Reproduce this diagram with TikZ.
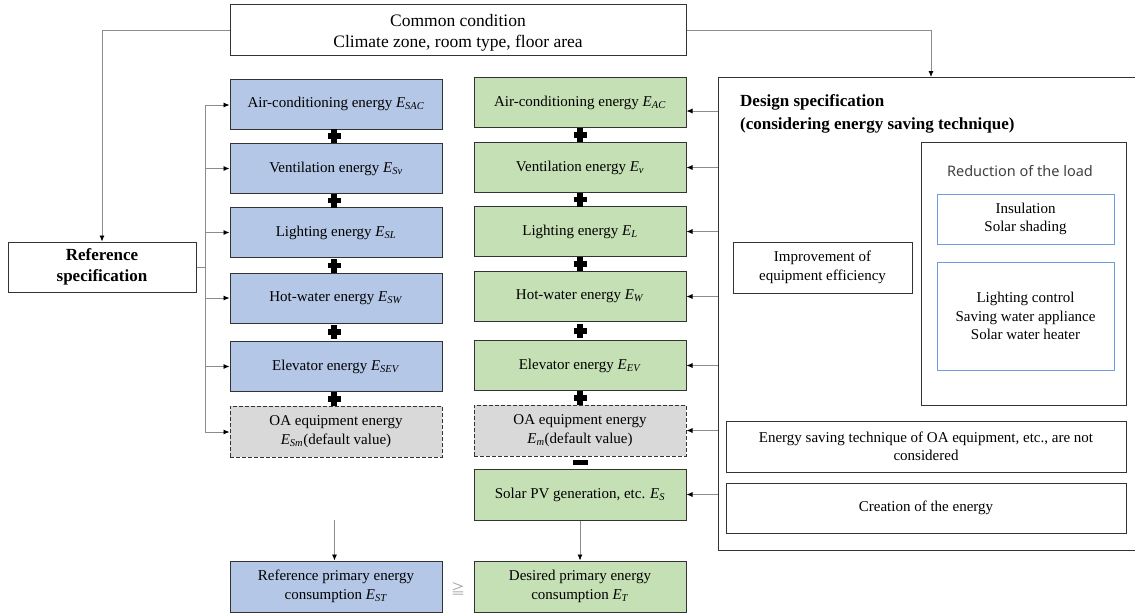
\documentclass[tikz,border=0pt]{standalone}
\usepackage{fontspec}
\setmainfont{Liberation Serif}
\newfontfamily\redfont{Noto Sans}
\newfontfamily\cjkfont{Noto Sans CJK JP}
\usetikzlibrary{arrows.meta}
\definecolor{bluefill}{HTML}{B4C7E7}
\definecolor{greenfill}{HTML}{C5E0B4}
\definecolor{greyfill}{HTML}{D9D9D9}
\definecolor{boxline}{HTML}{333333}
\definecolor{linegrey}{HTML}{8C8C8C}
\definecolor{innerblue}{HTML}{6F9BE0}
\definecolor{redtext}{HTML}{404040}
\newcommand\Esub[1]{\textit{E}\textsubscript{\textit{#1}}}
\begin{document}
\begin{tikzpicture}[x=1pt,y=-1pt,
  box/.style={draw=boxline, line width=1pt, rectangle, inner sep=0pt, minimum height=50pt, align=center, font=\fontsize{15}{18.5}\selectfont},
  bluebox/.style={box, fill=bluefill, minimum width=212pt},
  greenbox/.style={box, fill=greenfill, minimum width=212pt},
  oabox/.style={box, fill=greyfill, dash pattern=on 4pt off 2pt, minimum width=212pt, minimum height=51pt},
  wbox/.style={box, fill=white},
  ibox/.style={box, draw=innerblue, line width=0.9pt, minimum width=177pt},
  conn/.style={draw=linegrey, line width=0.8pt, -{Latex[length=6pt,width=5pt,color=black]}},
  plain/.style={draw=linegrey, line width=0.8pt},
  plussign/.pic={\fill[black] (-6.5,-2.6) rectangle (6.5,2.6); \fill[black] (-2.6,-7) rectangle (2.6,7);},
  minussign/.pic={\fill[black] (-7.5,-2.5) rectangle (7.5,2.5);}
]
\useasboundingbox (0,0) rectangle (1135,614);

% top
\node[wbox, minimum width=456pt, minimum height=51pt] (common) at (458,30) {};
\node[align=center, inner sep=0pt, font=\fontsize{17.5}{21}\selectfont] (commontxt) at (458,33) {Common condition\\Climate zone, room type, floor area};
\node[wbox, minimum width=188pt, minimum height=50pt, font=\fontsize{17}{21}\selectfont\bfseries] (refspec) at (102,267) {Reference\\specification};

% blue column
\node[bluebox] (b1) at (336,104) {Air-conditioning energy \Esub{SAC}};
\node[bluebox] (b2) at (336,168.5) {Ventilation energy \Esub{Sv}};
\node[bluebox] (b3) at (336,232.5) {Lighting energy \Esub{SL}};
\node[bluebox] (b4) at (336,298) {Hot-water energy \Esub{SW}};
\node[bluebox] (b5) at (336,366.5) {Elevator energy \Esub{SEV}};
\node[oabox] (b6) at (336,431.5) {OA equipment energy\\\Esub{Sm}(default value)};
\node[bluebox, minimum height=51pt] (bT) at (336,586.5) {Reference primary energy\\consumption \Esub{ST}};

% green column
\node[greenbox] (g1) at (580,102.5) {Air-conditioning energy \Esub{AC}};
\node[greenbox] (g2) at (580,167.5) {Ventilation energy \Esub{v}};
\node[greenbox] (g3) at (580,231.5) {Lighting energy \Esub{L}};
\node[greenbox] (g4) at (580,296.5) {Hot-water energy \Esub{W}};
\node[greenbox] (g5) at (580,365.5) {Elevator energy \Esub{EV}};
\node[oabox] (g6) at (580,430.5) {OA equipment energy\\\Esub{m}(default value)};
\node[greenbox, minimum height=51pt] (g7) at (580,494.5) {Solar PV generation, etc. \Esub{S}};
\node[greenbox, minimum height=51pt] (gT) at (580,586.5) {Desired primary energy\\consumption \Esub{T}};

% plus / minus signs
\foreach \y in {136,200.5,265.5,332,399} \pic at (334,\y) {plussign};
\foreach \y in {135,199.5,264,331,398} \pic at (580,\y) {plussign};
\pic at (580,462.5) {minussign};

% design specification
\node[draw=boxline, line width=1pt, minimum width=422pt, minimum height=473pt, inner sep=0pt] (design) at (929,313.5) {};
\node[anchor=west, align=left, inner sep=0pt, font=\fontsize{17}{23}\selectfont\bfseries] (dtext) at (740,114) {Design specification\\(considering energy saving technique)};
\node[wbox, minimum width=179pt, minimum height=51pt] (improve) at (822.5,267.5) {Improvement of\\equipment efficiency};
\node[draw=boxline, line width=1pt, minimum width=205pt, minimum height=263pt, inner sep=0pt] (reduce) at (1023.5,273.5) {};
\node[font=\redfont\fontsize{14.5}{17}\selectfont, text=redtext] (redtitle) at (1020,171) {Reduction of the load};
\node[ibox, minimum height=50pt] (ins) at (1025.5,219) {Insulation\\Solar shading};
\node[ibox, minimum height=108pt] (lctrl) at (1025.5,316) {Lighting control\\Saving water appliance\\Solar water heater};
\node[wbox, minimum width=400pt, minimum height=51pt] (oasave) at (926,446.5) {Energy saving technique of OA equipment, etc., are not\\considered};
\node[wbox, minimum width=400pt, minimum height=50pt] (create) at (926,508) {Creation of the energy};

% connectors
\coordinate (dtop) at (931,77);
\draw[conn] (common.west) -| (refspec.north);
\draw[conn] (common.east) -| (dtop);

\coordinate (bus1) at (205,105);
\coordinate (bus2) at (205,432);
\draw[plain] (refspec.east) -- (refspec.east -| bus1);
\draw[plain] (bus1) -- (bus2);
\draw[conn] (bus1) -- (b1.west |- bus1);
\draw[conn] (b2.west -| bus1) -- (b2.west);
\draw[conn] (b3.west -| bus1) -- (b3.west);
\draw[conn] (b4.west -| bus1) -- (b4.west);
\draw[conn] (b5.west -| bus1) -- (b5.west);
\draw[conn] (bus2) -- (b6.west |- bus2);

\coordinate (r1) at (718,111);
\draw[conn] (r1) -- (g1.east |- r1);
\draw[conn] (design.west |- g2.east) -- (g2.east);
\draw[conn] (design.west |- g3.east) -- (g3.east);
\draw[conn] (design.west |- g4.east) -- (g4.east);
\draw[conn] (design.west |- g5.east) -- (g5.east);
\draw[conn] (design.west |- g6.east) -- (g6.east);
\draw[conn] (design.west |- g7.east) -- (g7.east);

\coordinate (lstart) at (334.5,520);
\draw[conn] (lstart) -- (lstart |- bT.north);
\draw[conn] (g7.south) -- (gT.north);

\node[font=\cjkfont\fontsize{14}{14}\selectfont, text=linegrey!80] (geq) at (458,589) {≧};
\end{tikzpicture}
\end{document}
